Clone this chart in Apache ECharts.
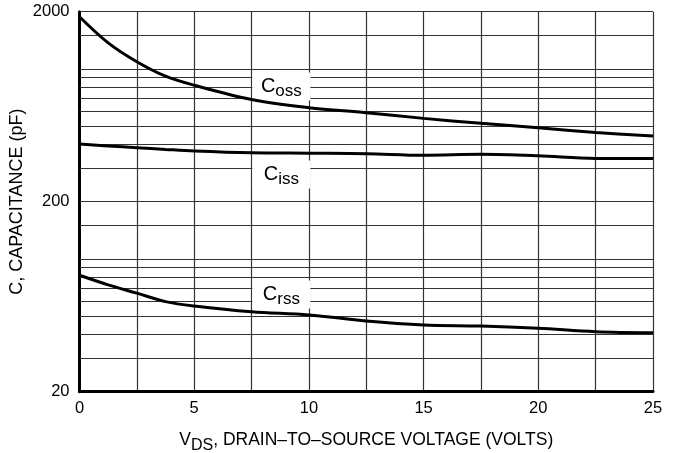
<!DOCTYPE html>
<html>
<head>
<meta charset="utf-8">
<script src="https://cdn.jsdelivr.net/npm/echarts@6/dist/echarts.min.js"></script>
<style>
html,body{margin:0;padding:0;background:#fff;}
#chartmain{width:681px;height:453px;}
</style>
</head>
<body>
<div id="chartmain"></div>
<script>
// 漏源电压 (V)
var voltage = [0, 1.25, 2.5, 3.75, 5, 7.5, 10, 12.5, 15, 17.5, 20, 22.5, 25];
// 电容曲线 (pF)
var coss = [1880, 1370, 1090, 915, 820, 690, 625, 588, 549, 517, 490, 463, 443];
var ciss = [402, 393, 385, 377, 370, 362, 360, 358, 351, 355, 349, 338, 338];
var crss = [82, 73, 66, 59.6, 56.5, 52.7, 50.7, 47.1, 44.9, 44.3, 43.1, 41.4, 40.9];
// 刻度
var xLabels = [0, 5, 10, 15, 20, 25];
var yLabels = [20, 200, 2000];
var yGrid = [30, 40, 50, 60, 70, 80, 90, 100, 150, 200, 300, 400, 500, 600, 700, 800, 900, 1000, 1500, 2000];
// 曲线名称标签位置 [V, pF]
var labelNames = ['oss', 'iss', 'rss'];
var labelPos = [[8.8, 807], [8.8, 278], [8.8, 65]];

function pairs(ys){
	var arr = [];
	for(var i=0;i<voltage.length;i++){
		arr.push([voltage[i], ys[i]]);
	}
	return arr;
}

var font = 'Liberation Sans, Arial, sans-serif';
var richSub = {
	c:{fontSize:20, fontFamily:font, color:'#000'},
	s:{fontSize:17, fontFamily:font, color:'#000', padding:[10,0,0,0]}
};

function curve(ys, idx){
	return {
		type:'line',
		data:pairs(ys),
		smooth:0.35,
		showSymbol:false,
		symbol:'none',
		z:8,
		lineStyle:{color:'#000', width:3},
		markPoint:{
			z:6,
			silent:true,
			symbol:'rect',
			symbolSize:[58, 28],
			itemStyle:{color:'#fff'},
			label:{
				show:true,
				position:'inside',
				formatter:'{c|C}{s|' + labelNames[idx] + '}',
				rich:richSub
			},
			data:[{coord:labelPos[idx]}]
		}
	};
}

var myChart = echarts.init(document.getElementById('chartmain'));
myChart.setOption({
	animation:false,
	grid:{left:79.5, right:28, top:11.7, bottom:61.3, outerBoundsMode:'none', containLabel:false},
	xAxis:{
		type:'value',
		min:0,
		max:25,
		interval:2.5,
		axisLine:{lineStyle:{color:'#000', width:3}},
		axisTick:{show:false},
		axisLabel:{
			customValues:xLabels,
			color:'#000',
			fontSize:16.5,
			fontFamily:font,
			margin:8
		},
		splitLine:{show:true, lineStyle:{color:'#333', width:1.2}},
		name:'{v|V}{s|DS}{t|, DRAIN\u2013TO\u2013SOURCE VOLTAGE (VOLTS)}',
		nameLocation:'middle',
		nameGap:35,
		nameTextStyle:{
			rich:{
				v:{fontSize:17.5, fontFamily:font, color:'#000'},
				s:{fontSize:16, fontFamily:font, color:'#000', padding:[11,0,0,0]},
				t:{fontSize:17.5, fontFamily:font, color:'#000'}
			}
		}
	},
	yAxis:{
		type:'log',
		logBase:10,
		min:20,
		max:2000,
		axisLine:{show:true, lineStyle:{color:'#000', width:3}},
		axisTick:{show:false},
		axisLabel:{
			customValues:yLabels,
			formatter:function(v){ return String(Math.round(v)); },
			color:'#000',
			fontSize:16.5,
			fontFamily:font,
			margin:10
		},
		splitLine:{show:false},
		name:'C, CAPACITANCE (pF)',
		nameLocation:'middle',
		nameGap:53,
		nameMoveOverlap:false,
		nameTextStyle:{fontSize:18, fontFamily:font, color:'#000'}
	},
	series:[
		{
			// 对数网格线
			type:'line',
			data:[],
			markLine:{
				z:3,
				silent:true,
				symbol:'none',
				label:{show:false},
				lineStyle:{color:'#333', width:1.2, type:'solid'},
				data:yGrid.map(function(v){ return {yAxis:v}; })
			}
		},
		curve(coss, 0),
		curve(ciss, 1),
		curve(crss, 2)
	]
});
</script>
</body>
</html>
